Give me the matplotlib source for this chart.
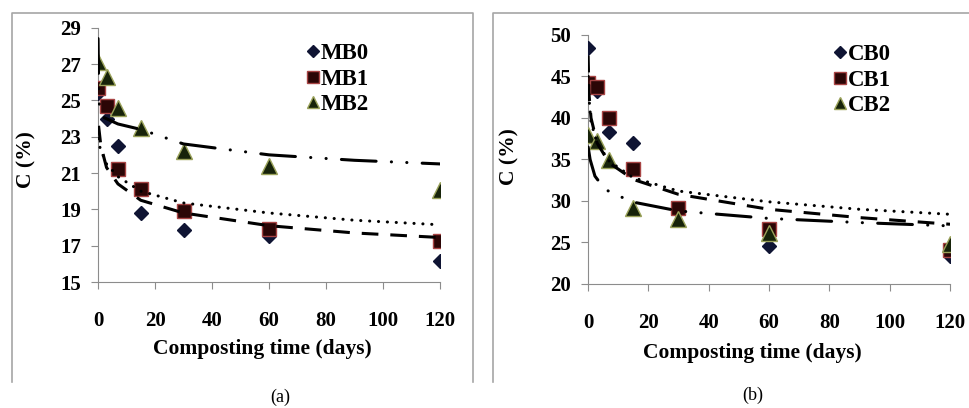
import matplotlib
matplotlib.use("Agg")
import matplotlib.pyplot as plt
from matplotlib.lines import Line2D

plt.rcParams['font.family'] = ['Liberation Serif', 'DejaVu Serif']
plt.rcParams['lines.scale_dashes'] = False

# Datos
days = [0, 3, 7, 15, 30, 60, 120]

mb0 = [25.4, 24.0, 22.5, 18.8, 17.85, 17.55, 16.15]
mb1 = [25.7, 24.7, 21.2, 20.1, 18.9, 17.9, 17.25]
mb2 = [27.1, 26.3, 24.6, 23.5, 22.2, 21.4, 20.05]

cb0 = [48.4, 43.3, 38.3, 37.0, 28.8, 24.6, 23.4]
cb1 = [44.2, 43.7, 40.0, 33.9, 29.2, 26.6, 24.1]
cb2 = [38.0, 37.2, 34.9, 29.2, 27.8, 26.2, 24.8]

# Lineas de tendencia
tr_a_dot_x = [0.3, 0.7, 3, 7, 15, 30, 60, 90, 120]
tr_a_dot_y = [22.9, 22.4, 21.5, 20.8, 20.0, 19.35, 18.8, 18.4, 18.15]
tr_a_dash_x = [0.2, 1, 3, 7, 15, 30, 60, 90, 120]
tr_a_dash_y = [23.6, 22.5, 21.3, 20.4, 19.5, 18.8, 18.1, 17.7, 17.45]
tr_a_dd_x = [0.02, 0.3, 1.4, 7, 15, 30, 60, 90, 120]
tr_a_dd_y = [28.4, 24.9, 24.1, 23.7, 23.4, 22.6, 22.0, 21.7, 21.5]

tr_b_dot_x = [0.1, 0.3, 1, 3, 7, 15, 30, 60, 90, 120]
tr_b_dot_y = [45.0, 42.5, 39.5, 37.0, 34.8, 32.8, 31.2, 29.9, 29.0, 28.4]
tr_b_dash_x = [0.05, 0.3, 1, 3, 7, 15, 30, 60, 90, 120]
tr_b_dash_y = [47.5, 43.0, 40.0, 37.0, 34.6, 32.6, 30.8, 29.0, 28.0, 27.2]
tr_b_dd_x = [0.05, 0.7, 2.3, 5.6, 14.5, 30, 60, 90, 120]
tr_b_dd_y = [36.5, 35.0, 33.0, 31.4, 29.9, 28.8, 27.9, 27.4, 27.0]

fig = plt.figure(figsize=(9.7, 4.08), dpi=100)
W, H = 970, 408

# Marcos grises de cada panel
gray = '#a6a6a6'
fig.add_artist(Line2D([12/W, 12/W, 473/W, 473/W], [1-382/H, 1-13/H, 1-13/H, 1-382/H],
                      color=gray, lw=1.2, transform=fig.transFigure))
fig.add_artist(Line2D([493/W, 493/W, 1.0], [1-382/H, 1-13/H, 1-13/H],
                      color=gray, lw=1.2, transform=fig.transFigure))

ax1 = fig.add_axes([98/W, 1-282/H, 342/W, 254.3/H])
ax2 = fig.add_axes([588/W, 1-284/H, 362/W, 249/H])

bold = dict(fontweight='bold', fontsize=15.5)

def style(ax, yticks):
    ax.set_xlim(0, 120)
    ax.set_ylim(yticks[0], yticks[-1])
    ax.set_xticks(range(0, 121, 20))
    ax.set_yticks(yticks)
    for s in ['top', 'right']:
        ax.spines[s].set_visible(False)
    for s in ['left', 'bottom']:
        ax.spines[s].set_color('#8c8c8c')
    ax.tick_params(axis='both', direction='out', length=5, color='#8c8c8c')
    ax.tick_params(axis='x', pad=16)
    ax.tick_params(axis='y', pad=7)
    for lab in ax.get_xticklabels() + ax.get_yticklabels():
        lab.set_fontweight('bold')
        lab.set_fontsize(15)
    ax.set_xlabel('Composting time (days)', **bold)
    ax.set_ylabel('C (%)', **bold)
    ax.patch.set_alpha(0)

def series(ax, y0, y1, y2, labels):
    ax.plot(days, y0, 'D', ms=6.8, color='#0f1433', mec='#0f1433', label=labels[0], zorder=3)
    ax.plot(days, y1, 's', ms=9.5, color='#2b0606', mec='#a84444', mew=1, label=labels[1], zorder=3)
    ax.plot(days, y2, '^', ms=11, color='#17230a', mec='#9aa25a', mew=1, label=labels[2], zorder=3)

def trends(ax, dx, dy, hx, hy, ddx, ddy):
    ax.plot(dx, dy, color='black', lw=2.2, dashes=(0.1, 6.3), dash_capstyle='round', zorder=4)
    ax.plot(hx, hy, color='black', lw=2.2, dashes=(12, 8.6), zorder=4)
    ax.plot(ddx, ddy, color='black', lw=2.2, dashes=(25, 11, 0.1, 11, 0.1, 11),
            dash_capstyle='round', zorder=4)

series(ax1, mb0, mb1, mb2, ['MB0', 'MB1', 'MB2'])
trends(ax1, tr_a_dot_x, tr_a_dot_y, tr_a_dash_x, tr_a_dash_y, tr_a_dd_x, tr_a_dd_y)
style(ax1, list(range(15, 30, 2)))

series(ax2, cb0, cb1, cb2, ['CB0', 'CB1', 'CB2'])
trends(ax2, tr_b_dot_x, tr_b_dot_y, tr_b_dash_x, tr_b_dash_y, tr_b_dd_x, tr_b_dd_y)
style(ax2, list(range(20, 51, 5)))

ax1.xaxis.set_label_coords(0.482, -0.225)
ax1.yaxis.set_label_coords(-0.18, 0.48)
ax2.xaxis.set_label_coords(0.453, -0.235)
ax2.yaxis.set_label_coords(-0.19, 0.51)

leg_kw = dict(frameon=False, loc='upper left', borderpad=0, handlelength=0.6,
              handletextpad=0.05, labelspacing=0.2, markerscale=0.85,
              prop=dict(family='Liberation Serif', weight='bold', size=16.5))
ax1.legend(bbox_to_anchor=(0.575, 0.985), **leg_kw)
ax2.legend(bbox_to_anchor=(0.645, 1.01), **leg_kw)

fig.text(280/W, 1-397/H, '(a)', ha='center', va='center', fontsize=13)
fig.text(753/W, 1-395/H, '(b)', ha='center', va='center', fontsize=13)

fig.savefig('out.png', dpi=100)
